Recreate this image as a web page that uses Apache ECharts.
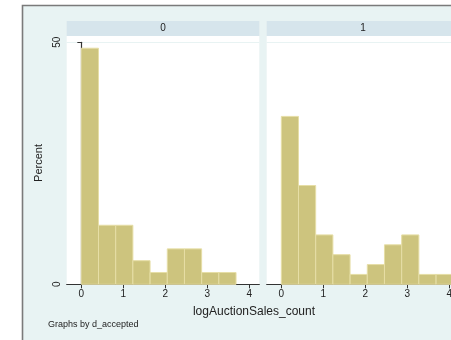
<!DOCTYPE html>
<html><head><meta charset="utf-8">
<script src="https://cdn.jsdelivr.net/npm/echarts@6/dist/echarts.min.js"></script>
<style>html,body{margin:0;padding:0;background:#fff;overflow:hidden;width:451px;height:340px}#c{width:480px;height:350px}</style>
</head><body><div id="c"></div>
<script>
// Data
const panels = ["0", "1"];
const binLeft = [0, 0.409, 0.819, 1.228, 1.638, 2.047, 2.456, 2.866, 3.275, 3.685];
const binWidth = 0.409;
const percent0 = [48.78, 12.20, 12.20, 4.88, 2.44, 7.32, 7.32, 2.44, 2.44];
const percent1 = [34.69, 20.41, 10.20, 6.12, 2.04, 4.08, 8.16, 10.20, 2.04, 2.04];
const xTicks = [0, 1, 2, 3, 4];
const yTicks = [0, 50];
const xTitle = "logAuctionSales_count";
const yTitle = "Percent";
const note = "Graphs by d_accepted";

const FONT = "Liberation Sans, Arial, Helvetica, sans-serif";
const BG = "#e8f3f3";
const STRIP = "#d6e5ec";
const BAR = "#cdc47e";
const BAR_EDGE = "#e6dea6";
const AXIS = "#333";

const gridLefts = [66.7, 266.7];
const gridW = 192.6, gridTop = 42.3, gridH = 242;

function toData(vals) { return vals.map((v, i) => [binLeft[i], binLeft[i] + binWidth, v]); }

const chart = echarts.init(document.getElementById('c'), null, {renderer: 'canvas'});

const grids = gridLefts.map(l => ({left: l, top: gridTop, width: gridW, height: gridH, show: true, backgroundColor: '#fff', borderWidth: 0}));

const xAxes = [0, 1].map(i => ({
  type: 'value', gridIndex: i, min: -0.348, max: 4.238,
  axisLine: {show: true, onZero: false, lineStyle: {color: AXIS, width: 1.2}},
  axisTick: {show: true, length: 4, lineStyle: {color: AXIS}, customValues: xTicks},
  axisLabel: {show: true, fontSize: 10, color: '#222', fontFamily: FONT, margin: 5, customValues: xTicks},
  splitLine: {show: false}
}));

const yAxes = [0, 1].map(i => ({
  type: 'value', gridIndex: i, min: 0, max: 50, interval: 50,
  axisLine: {show: i === 0, lineStyle: {color: AXIS, width: 1.2}},
  axisTick: {show: i === 0, length: 4, lineStyle: {color: AXIS}},
  axisLabel: {show: i === 0, rotate: 90, fontSize: 10, color: '#222', fontFamily: FONT, margin: 4},
  splitLine: {show: true, lineStyle: {color: BG, width: 1}}
}));

function renderBar(params, api) {
  const a = api.coord([api.value(0), 0]);
  const b = api.coord([api.value(1), api.value(2)]);
  return {
    type: 'rect',
    shape: {x: a[0], y: b[1], width: b[0] - a[0], height: a[1] - b[1]},
    style: {fill: BAR, stroke: BAR_EDGE, lineWidth: 1}
  };
}

const series = [percent0, percent1].map((vals, i) => ({
  type: 'custom', xAxisIndex: i, yAxisIndex: i, renderItem: renderBar,
  data: toData(vals), silent: true, z: 2
}));

const graphics = [
  {type: 'rect', z: -100, shape: {x: 22.5, y: 5.5, width: 600, height: 600}, style: {fill: BG, stroke: '#7a7a7a', lineWidth: 1.6}},
];
gridLefts.forEach((l, i) => {
  graphics.push({type: 'rect', z: -50, shape: {x: l, y: 21, width: gridW, height: 15}, style: {fill: STRIP}});
  graphics.push({type: 'rect', z: -50, shape: {x: l, y: 36, width: gridW, height: gridTop - 36}, style: {fill: '#fff'}});
  graphics.push({type: 'text', z: 50, x: l + gridW / 2, y: 28.5, style: {text: panels[i], fill: '#222', font: '10px ' + FONT, textAlign: 'center', textVerticalAlign: 'middle'}});
});
graphics.push({type: 'text', z: 50, x: 39, y: 163, rotation: Math.PI / 2, style: {text: yTitle, fill: '#222', font: '11px ' + FONT, textAlign: 'center', textVerticalAlign: 'middle'}});
graphics.push({type: 'text', z: 50, x: 254, y: 312, style: {text: xTitle, fill: '#222', font: '12px ' + FONT, textAlign: 'center', textVerticalAlign: 'middle'}});
graphics.push({type: 'text', z: 50, x: 48, y: 324.5, style: {text: note, fill: '#222', font: '9px ' + FONT, textAlign: 'left', textVerticalAlign: 'middle'}});

chart.setOption({
  animation: false,
  backgroundColor: '#fff',
  grid: grids, xAxis: xAxes, yAxis: yAxes, series: series, graphic: graphics
});
</script></body></html>
